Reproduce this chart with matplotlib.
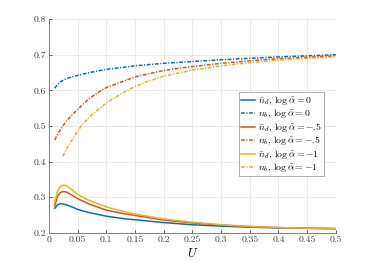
import matplotlib
matplotlib.use('Agg')
import matplotlib.pyplot as plt
import numpy as np

plt.rcParams['font.family'] = 'serif'
plt.rcParams['font.serif'] = ['cmr10', 'DejaVu Serif']
plt.rcParams['mathtext.fontset'] = 'cm'
plt.rcParams['axes.formatter.use_mathtext'] = True

# n_d (solid) curves, sampled on U_d
U_d = [0.01, 0.015, 0.02, 0.025, 0.03, 0.04, 0.05, 0.07, 0.1, 0.13, 0.15,
       0.2, 0.25, 0.3, 0.35, 0.4, 0.45, 0.5]
nd_a0 = [0.269, 0.279, 0.282, 0.281, 0.279, 0.273, 0.266, 0.257, 0.247, 0.240,
         0.237, 0.229, 0.223, 0.219, 0.216, 0.214, 0.213, 0.212]
nd_a05 = [0.276, 0.303, 0.314, 0.316, 0.315, 0.306, 0.296, 0.281, 0.264, 0.254,
          0.249, 0.236, 0.228, 0.222, 0.218, 0.215, 0.213, 0.212]
nd_a1 = [0.287, 0.318, 0.331, 0.334, 0.333, 0.321, 0.308, 0.291, 0.273, 0.260,
         0.253, 0.239, 0.230, 0.223, 0.218, 0.215, 0.213, 0.212]

# n_b (dash-dot) curves
U_b0 = [0.01, 0.015, 0.02, 0.03, 0.04, 0.05, 0.07, 0.1, 0.15, 0.2, 0.25,
        0.3, 0.35, 0.4, 0.45, 0.5]
nb_a0 = [0.606, 0.617, 0.624, 0.633, 0.638, 0.642, 0.650, 0.659, 0.669, 0.676,
         0.681, 0.686, 0.690, 0.694, 0.697, 0.700]
U_b05 = [0.01, 0.015, 0.02, 0.025, 0.03, 0.04, 0.05, 0.07, 0.09, 0.1, 0.15,
         0.2, 0.24, 0.3, 0.35, 0.4, 0.45, 0.5]
nb_a05 = [0.461, 0.477, 0.490, 0.502, 0.513, 0.531, 0.547, 0.577, 0.599, 0.608,
          0.638, 0.656, 0.665, 0.676, 0.683, 0.689, 0.693, 0.697]
U_b1 = [0.024, 0.03, 0.04, 0.05, 0.056, 0.07, 0.1, 0.12, 0.14, 0.15, 0.17,
        0.2, 0.25, 0.3, 0.35, 0.4, 0.45, 0.5]
nb_a1 = [0.415, 0.434, 0.461, 0.485, 0.500, 0.525, 0.565, 0.585, 0.603, 0.611,
         0.624, 0.640, 0.657, 0.669, 0.678, 0.685, 0.690, 0.694]

blue = '#0072BD'
red = '#D95319'
yellow = '#EDB120'
dashdot = (0, (2.5, 1, 0.8, 1))

fig = plt.figure(figsize=(3.74, 2.62), dpi=100)
ax = fig.add_axes([0.131, 0.111, 0.767, 0.816])

lw = 1.1
ax.plot(U_d, nd_a0, color=blue, lw=lw, label=r'$\bar{n}_d,\,\log\tilde{\alpha}=0$')
ax.plot(U_b0, nb_a0, color=blue, lw=lw, ls=dashdot, label=r'$n_b,\,\log\tilde{\alpha}=0$')
ax.plot(U_d, nd_a05, color=red, lw=lw, label=r'$\bar{n}_d,\,\log\tilde{\alpha}=-$.5')
ax.plot(U_b05, nb_a05, color=red, lw=lw, ls=dashdot, label=r'$n_b,\,\log\tilde{\alpha}=-$.5')
ax.plot(U_d, nd_a1, color=yellow, lw=lw, label=r'$\bar{n}_d,\,\log\tilde{\alpha}=-1$')
ax.plot(U_b1, nb_a1, color=yellow, lw=lw, ls=dashdot, label=r'$n_b,\,\log\tilde{\alpha}=-1$')

ax.set_xlim(0, 0.5)
ax.set_ylim(0.2, 0.8)
xt = np.arange(0, 0.501, 0.05)
yt = np.arange(0.2, 0.801, 0.1)
ax.set_xticks(xt)
ax.set_yticks(yt)
ax.set_xticklabels(['0', '0.05', '0.1', '0.15', '0.2', '0.25', '0.3', '0.35', '0.4', '0.45', '0.5'])
ax.set_yticklabels(['0.2', '0.3', '0.4', '0.5', '0.6', '0.7', '0.8'])
ax.tick_params(direction='in', length=2.5, width=0.6, labelsize=7, colors='#404040', pad=2)
ax.grid(True, color='#e6e6e6', lw=0.6)
ax.set_axisbelow(True)
for s in ['top', 'right']:
    ax.spines[s].set_visible(False)
for s in ['left', 'bottom']:
    ax.spines[s].set_color('#808080')
    ax.spines[s].set_linewidth(0.7)

ax.set_xlabel(r'$U$', fontsize=9, labelpad=2)

leg = ax.legend(loc='upper left', bbox_to_anchor=(0.662, 0.659), fontsize=7,
                handlelength=1.5, handletextpad=0.25, labelspacing=0.05,
                borderpad=0.2, borderaxespad=0, fancybox=False, framealpha=1)
leg.get_frame().set_edgecolor('#a0a0a0')
leg.get_frame().set_linewidth(0.6)

fig.savefig('out.png', dpi=100)
